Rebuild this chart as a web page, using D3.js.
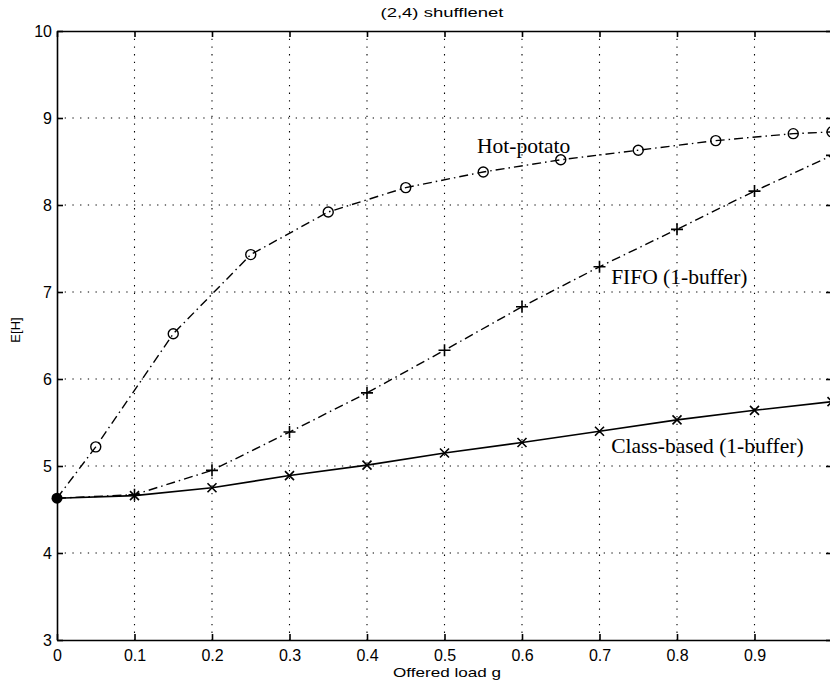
<!DOCTYPE html>
<html>
<head>
<meta charset="utf-8">
<script src="https://cdn.jsdelivr.net/npm/d3@7"></script>
<style>
  body { margin: 0; background: #fff; }
  svg { display: block; }
</style>
</head>
<body>
<div class="canvas"></div>
<script>
// data
const hotLoad = [0, 0.05, 0.15, 0.25, 0.35, 0.45, 0.55, 0.65, 0.75, 0.85, 0.95, 1.0]
const hotEH = [4.63, 5.22, 6.52, 7.43, 7.92, 8.20, 8.38, 8.52, 8.63, 8.74, 8.82, 8.84]
const load = [0, 0.1, 0.2, 0.3, 0.4, 0.5, 0.6, 0.7, 0.8, 0.9, 1.0]
const fifoEH = [4.63, 4.67, 4.95, 5.39, 5.84, 6.33, 6.83, 7.29, 7.72, 8.16, 8.57]
const classEH = [4.63, 4.66, 4.75, 4.89, 5.01, 5.15, 5.27, 5.40, 5.53, 5.64, 5.74]
const xTicks = [0, 0.1, 0.2, 0.3, 0.4, 0.5, 0.6, 0.7, 0.8, 0.9]
const yTicks = [3, 4, 5, 6, 7, 8, 9, 10]
const labels = [
  {text: 'Hot-potato', x: 0.542, y: 8.6},
  {text: 'FIFO (1-buffer)', x: 0.715, y: 7.09},
  {text: 'Class-based (1-buffer)', x: 0.715, y: 5.15}
]

const width = 830, height = 690
const margin = {top: 31, right: -2, bottom: 50, left: 57}
const graphWidth = width - margin.left - margin.right
const graphHeight = height - margin.top - margin.bottom

const svg = d3.select('.canvas').append('svg').attr('width', width).attr('height', height)

const x = d3.scaleLinear().domain([0, 1]).range([0, graphWidth])
const y = d3.scaleLinear().domain([3, 10]).range([graphHeight, 0])

const graph = svg.append('g').attr('transform', `translate(${margin.left}, ${margin.top})`)

// dotted grid
graph.append('g').selectAll('line').data(xTicks.slice(1)).enter().append('line')
  .attr('x1', d => x(d)).attr('x2', d => x(d)).attr('y1', 0).attr('y2', graphHeight)
  .attr('stroke', '#000').attr('stroke-width', 1.1).attr('stroke-dasharray', '1.3,6.4')
graph.append('g').selectAll('line').data(yTicks.slice(1, -1)).enter().append('line')
  .attr('y1', d => y(d)).attr('y2', d => y(d)).attr('x1', 0).attr('x2', graphWidth)
  .attr('stroke', '#000').attr('stroke-width', 1.1).attr('stroke-dasharray', '1.3,6.4')

// axes with inward ticks
const xAxis = d3.axisBottom(x).tickValues(xTicks).tickSizeInner(-6).tickSizeOuter(0).tickPadding(10).tickFormat(d3.format('~g'))
const yAxis = d3.axisLeft(y).tickValues(yTicks).tickSizeInner(-6).tickSizeOuter(0).tickPadding(5).tickFormat(d3.format('d'))
const xTop = d3.axisTop(x).tickValues(xTicks).tickSizeInner(-6).tickSizeOuter(0).tickFormat('')
const yRight = d3.axisRight(y).tickValues(yTicks).tickSizeInner(-6).tickSizeOuter(0).tickFormat('')

graph.append('g').attr('transform', `translate(0, ${graphHeight})`).call(xAxis)
graph.append('g').call(yAxis)
graph.append('g').call(xTop)
graph.append('g').attr('transform', `translate(${graphWidth}, 0)`).call(yRight)

graph.selectAll('.domain, .tick line').attr('stroke', '#000').attr('stroke-width', 1.6)
graph.selectAll('.tick text').attr('font-family', 'Liberation Sans, Arial, sans-serif')
  .attr('font-size', 16).attr('fill', '#000')

// lines
const line = d3.line().x(d => x(d[0])).y(d => y(d[1]))
const hot = hotLoad.map((v, i) => [v, hotEH[i]])
const fifo = load.map((v, i) => [v, fifoEH[i]])
const cls = load.map((v, i) => [v, classEH[i]])

const plot = graph.append('g')
plot.append('path').datum(hot).attr('d', line).attr('fill', 'none').attr('stroke', '#000')
  .attr('stroke-width', 1.4).attr('stroke-dasharray', '9,4,1.5,4')
plot.append('path').datum(fifo).attr('d', line).attr('fill', 'none').attr('stroke', '#000')
  .attr('stroke-width', 1.4).attr('stroke-dasharray', '9,4,1.5,4')
plot.append('path').datum(cls).attr('d', line).attr('fill', 'none').attr('stroke', '#000')
  .attr('stroke-width', 1.6)

// markers
plot.selectAll('circle.hot').data(hot.slice(1)).enter().append('circle')
  .attr('cx', d => x(d[0])).attr('cy', d => y(d[1])).attr('r', 5)
  .attr('fill', 'none').attr('stroke', '#000').attr('stroke-width', 1.4)
plot.selectAll('path.plus').data(fifo.slice(1)).enter().append('path')
  .attr('d', d => `M${x(d[0]) - 6},${y(d[1])}h12M${x(d[0])},${y(d[1]) - 6}v12`)
  .attr('stroke', '#000').attr('stroke-width', 1.6)
plot.selectAll('path.cross').data(cls.slice(1)).enter().append('path')
  .attr('d', d => `M${x(d[0]) - 4.5},${y(d[1]) - 4.5}l9,9M${x(d[0]) - 4.5},${y(d[1]) + 4.5}l9,-9`)
  .attr('stroke', '#000').attr('stroke-width', 1.6)
// overlapping markers at the origin
plot.append('circle').attr('cx', x(hot[0][0])).attr('cy', y(hot[0][1])).attr('r', 5.5).attr('fill', '#000')

// series labels
graph.selectAll('text.lab').data(labels).enter().append('text')
  .attr('x', d => x(d.x)).attr('y', d => y(d.y))
  .attr('font-family', 'Liberation Serif, Times New Roman, serif').attr('font-size', 21.5)
  .text(d => d.text)

// title and axis titles (the reference text is horizontally stretched)
svg.append('text').attr('x', 442).attr('y', 17).attr('text-anchor', 'middle')
  .attr('font-family', 'Liberation Sans, Arial, sans-serif').attr('font-size', 13)
  .attr('textLength', 123).attr('lengthAdjust', 'spacingAndGlyphs')
  .text('(2,4) shufflenet')
svg.append('text').attr('x', 447).attr('y', 677).attr('text-anchor', 'middle')
  .attr('font-family', 'Liberation Sans, Arial, sans-serif').attr('font-size', 13)
  .attr('textLength', 108).attr('lengthAdjust', 'spacingAndGlyphs')
  .text('Offered load g')
svg.append('text').attr('transform', 'translate(20, 330) rotate(-90)').attr('text-anchor', 'middle')
  .attr('font-family', 'Liberation Sans, Arial, sans-serif').attr('font-size', 13)
  .text('E[H]')
</script>
</body>
</html>
